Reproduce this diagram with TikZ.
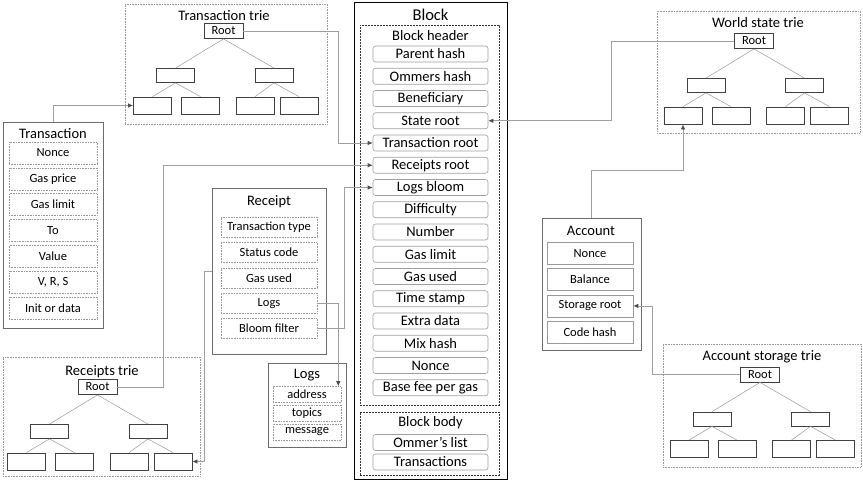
\documentclass[tikz,border=0pt]{standalone}
\usepackage{fontspec}
\setmainfont{Carlito}
\usetikzlibrary{arrows.meta,calc}
\begin{document}
\begin{tikzpicture}[x=1pt,y=-1pt,
  trienode/.style={draw=black!75,line width=0.8pt,inner sep=0pt,minimum width=38,minimum height=15,font=\fontsize{12.5}{13}\selectfont},
  triebox/.style={draw=gray!80,densely dotted,line width=0.6pt,inner sep=0pt},
  trieedge/.style={draw=gray!80,line width=0.5pt},
  outerbox/.style={draw=gray!85!black,line width=0.8pt,inner sep=0pt},
  title/.style={inner sep=0pt,font=\fontsize{14.5}{16}\selectfont},
  bitem/.style={draw=gray!75,rounded corners=2.5pt,line width=0.6pt,inner sep=0pt,minimum width=115,minimum height=16,font=\fontsize{14.5}{16}\selectfont},
  ditem/.style={draw=gray!80,densely dotted,line width=0.6pt,inner sep=0pt,font=\fontsize{12.5}{14}\selectfont},
  aitem/.style={draw=gray!80,line width=0.6pt,inner sep=0pt,font=\fontsize{12.5}{14}\selectfont},
  dbox/.style={draw=black!80,dashed,dash pattern=on 2pt off 1pt,line width=0.6pt,inner sep=0pt},
  conn/.style={draw=gray!75,line width=0.7pt},
  arr/.style={conn,-{Latex[length=5pt,width=4.5pt,color=black!70]}}
]
\useasboundingbox (0,0) rectangle (863,482);

% ---------- trie macro ----------
\newcommand\mytrie[3]{%
  \begin{scope}[shift={(#2,#3)}]
    \node[trienode,minimum width=39] (#1r) at (0,0) {Root};
    \node[trienode,minimum height=14] (#1m1) at (-48,44.5) {};
    \node[trienode,minimum height=14] (#1m2) at (50.5,44.5) {};
    \node[trienode,minimum height=17] (#1l1) at (-71,74.5) {};
    \node[trienode,minimum height=17] (#1l2) at (-23,74.5) {};
    \node[trienode,minimum height=17] (#1l3) at (31.5,74.5) {};
    \node[trienode,minimum height=17] (#1l4) at (75.5,74.5) {};
  \end{scope}
  \draw[trieedge] (#1r.south) -- (#1m1.north);
  \draw[trieedge] (#1r.south) -- (#1m2.north);
  \draw[trieedge] (#1m1.south) -- (#1l1.north);
  \draw[trieedge] (#1m1.south) -- (#1l2.north);
  \draw[trieedge] (#1m2.south) -- (#1l3.north);
  \draw[trieedge] (#1m2.south) -- (#1l4.north);
}

% ---------- Transaction trie ----------
\node[triebox,minimum width=202,minimum height=120] (ttbox) at (226,64) {};
\node[title] (tttitle) at (224,16) {Transaction trie};
\mytrie{tt}{223.5}{31}

% ---------- World state trie ----------
\node[triebox,minimum width=203,minimum height=122] (wbox) at (758.5,72) {};
\node[title] (wtitle) at (758,23) {World state trie};
\mytrie{w}{754}{41}

% ---------- Account storage trie ----------
\node[triebox,minimum width=198,minimum height=123] (sbox) at (762,405.5) {};
\node[title] (stitle) at (762,357) {Account storage trie};
\mytrie{s}{760}{374.5}

% ---------- Receipts trie ----------
\node[triebox,minimum width=197,minimum height=119] (rtbox) at (101.5,416.5) {};
\node[title] (rttitle) at (102,372) {Receipts trie};
\mytrie{rt}{97.5}{387}

% ---------- Block ----------
\node[draw=black,line width=1pt,inner sep=0pt,minimum width=153,minimum height=477] (block) at (430.5,240.5) {};
\node[title,font=\fontsize{16.5}{18}\selectfont] (blocktitle) at (430.5,15) {Block};
\node[dbox,minimum width=139,minimum height=380] (header) at (429.5,215) {};
\node[title] (headertitle) at (430.5,36) {Block header};
\foreach \t [count=\i from 0] in {Parent hash,Ommers hash,Beneficiary,State root,Transaction root,Receipts root,Logs bloom,Difficulty,Number,Gas limit,Gas used,Time stamp,Extra data,Mix hash,Nonce,Base fee per gas}{
  \pgfmathtruncatemacro\k{\i+1}
  \node[bitem] (b\k) at (430.5,54+22.25*\i) {\t};
}
\node[dbox,minimum width=139,minimum height=63] (body) at (429.5,443.5) {};
\node[title] (bodytitle) at (430.5,423) {Block body};
\node[bitem] (bb1) at (430.5,442.5) {Ommer{\char"0027}s list};
\node[bitem] (bb2) at (430.5,462) {Transactions};

% ---------- Transaction ----------
\node[outerbox,minimum width=100,minimum height=206] (tx) at (53,225) {};
\node[title] (txtitle) at (53,134) {Transaction};
\foreach \t [count=\i from 0] in {Nonce,Gas price,Gas limit,To,Value,{V, R, S},Init or data}{
  \pgfmathtruncatemacro\k{\i+1}
  \node[ditem,minimum width=88,minimum height=22] (t\k) at (53,153+25.8*\i) {\t};
}

% ---------- Receipt ----------
\node[outerbox,minimum width=114,minimum height=166] (rc) at (269,271) {};
\node[title] (rctitle) at (269,202) {Receipt};
\foreach \t [count=\i from 0] in {Transaction type,Status code,Gas used,Logs,Bloom filter}{
  \pgfmathtruncatemacro\k{\i+1}
  \node[ditem,minimum width=96,minimum height=20] (r\k) at (269,227+25.4*\i) {\t};
}

% ---------- Logs ----------
\node[outerbox,minimum width=78,minimum height=84] (lg) at (307,405) {};
\node[title] (lgtitle) at (307,375) {Logs};
\foreach \t [count=\i from 0] in {address,topics,message}{
  \pgfmathtruncatemacro\k{\i+1}
  \node[ditem,minimum width=68,minimum height=16] (lg\k) at (307,394.5+18.7*\i) {\t};
}

% ---------- Account ----------
\node[outerbox,minimum width=99,minimum height=132] (ac) at (591.5,284) {};
\node[title] (actitle) at (591,231) {Account};
\foreach \t [count=\i from 0] in {Nonce,Balance,Storage root,Code hash}{
  \pgfmathtruncatemacro\k{\i+1}
  \node[aitem,minimum width=86,minimum height=22] (a\k) at (590,253.5+26.2*\i) {\t};
}

% ---------- Connectors ----------
\draw[arr] (ttr.east) -- ++(95,0) |- (b5.west);
\draw[arr] (wr.west) -- ++(-123,0) |- (b4.east);
\draw[arr] (tx.north) |- (ttl1.west);
\draw[arr] (rtr.east) -- ++(46,0) |- (b6.west);
\draw[arr] (r5.east) -- ++(27,0) |- (b7.west);
\draw[arr] (r4.east) -| ($(lg1.north east)+(-3,0)$);
\draw[arr] (rc.west) -- ++(-7,0) |- (rtl4.east);
\draw[arr] (ac.north) -- ++(0,-47) -| (wl1.south);
\draw[arr] (sr.west) -- ++(-88,0) |- (a3.east);
\end{tikzpicture}
\end{document}
